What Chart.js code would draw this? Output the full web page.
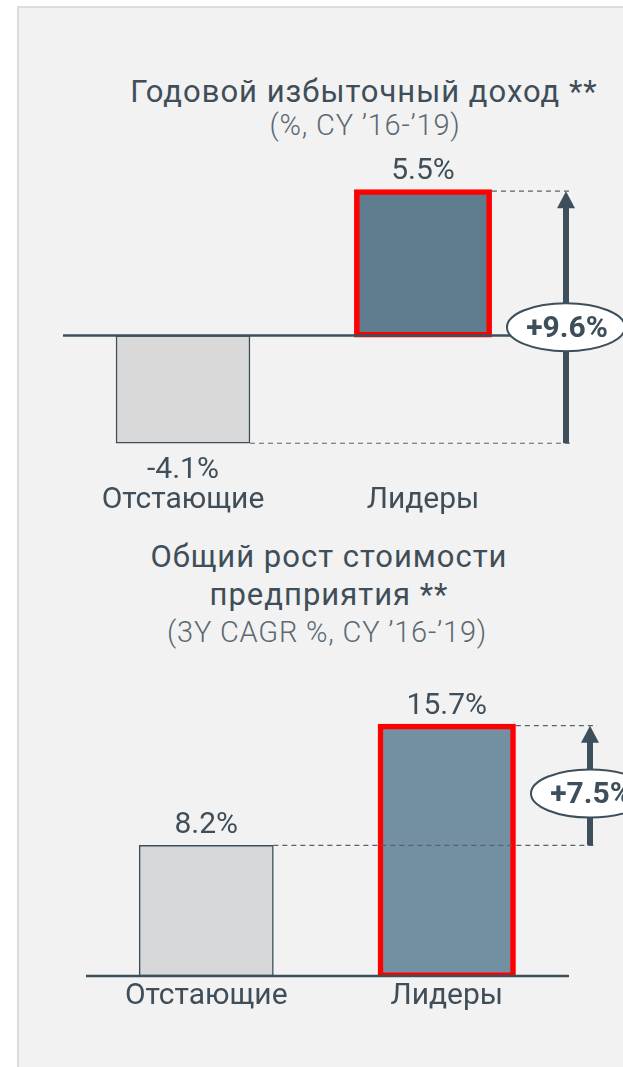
<!DOCTYPE html>
<html>
<head>
<meta charset="utf-8">
<script src="https://cdn.jsdelivr.net/npm/chart.js@4.4.1/dist/chart.umd.min.js"></script>
<style>
  body { margin: 0; width: 623px; height: 1067px; overflow: hidden; position: relative; background: #fff; font-family: Roboto, sans-serif; color: #3f4e58; }
  #panel { position: absolute; left: 17px; top: 6px; width: 620px; height: 1061px; background: #f2f2f2; border-left: 2px solid #dcdcdc; border-top: 2px solid #dcdcdc; }
  .t { position: absolute; white-space: nowrap; transform: translateX(-50%); line-height: 1; }
  .title { font-size: 31px; letter-spacing: 1px; color: #3f4e58; }
  .sub { font-size: 29px; font-weight: 300; letter-spacing: 0.8px; color: #5b6972; }
  canvas { position: absolute; left: 0; }
</style>
</head>
<body>
<div id="panel"></div>

<div class="t title" style="left:364px; top:76px;">Годовой избыточный доход **</div>
<div class="t sub" style="left:365px; top:111px;">(%, CY ’16-’19)</div>
<canvas id="chart-excess" width="623" height="380" style="top:150px;"></canvas>

<div class="t title" style="left:329px; top:541px;">Общий рост стоимости</div>
<div class="t title" style="left:329px; top:579px;">предприятия **</div>
<div class="t sub" style="left:327px; top:618px;">(3Y CAGR %, CY ’16-’19)</div>
<canvas id="chart-growth" width="623" height="366" style="top:660px;"></canvas>

<script>
const categories = ['Отстающие', 'Лидеры'];

const excessReturn = [-4.1, 5.5];
const excessReturnGap = '+9.6%';

const valueGrowth = [8.2, 15.7];
const valueGrowthGap = '+7.5%';

const textColor = '#3f4e58';
const darkLine = '#3d4f5a';

// zero line, value labels, dashed leaders, arrow and the gap bubble
const gapMarker = {
  id: 'gapMarker',
  afterDatasetsDraw(chart, args, opts) {
    const { ctx, chartArea } = chart;
    const yScale = chart.scales.y;
    const bars = chart.getDatasetMeta(0).data;
    const values = chart.data.datasets[0].data;

    ctx.save();

    const y0 = yScale.getPixelForValue(0);
    ctx.strokeStyle = darkLine;
    ctx.lineWidth = 2.5;
    ctx.beginPath();
    ctx.moveTo(chartArea.left, y0);
    ctx.lineTo(chartArea.right + 2, y0);
    ctx.stroke();

    ctx.font = '30px Roboto';
    ctx.fillStyle = textColor;
    ctx.textAlign = 'center';
    ctx.textBaseline = 'alphabetic';
    bars.forEach((bar, i) => {
      const v = values[i];
      const txt = v.toFixed(1) + '%';
      if (v >= 0) ctx.fillText(txt, bar.x, bar.y - 12);
      else ctx.fillText(txt, bar.x, bar.y + 35);
    });

    const arrowX = chartArea.right + 23;
    const dashEnd = chartArea.right + 30;
    ctx.setLineDash([5, 4]);
    ctx.lineWidth = 1.2;
    ctx.strokeStyle = '#55636d';
    bars.forEach((bar, i) => {
      ctx.beginPath();
      ctx.moveTo(bar.x + bar.width / 2 + (i === 1 ? 2 : 0), bar.y);
      ctx.lineTo(dashEnd, bar.y);
      ctx.stroke();
    });
    ctx.setLineDash([]);

    const yLow = Math.max(bars[0].y, bars[1].y);
    const yHigh = Math.min(bars[0].y, bars[1].y);
    ctx.strokeStyle = darkLine;
    ctx.fillStyle = darkLine;
    ctx.lineWidth = 6;
    ctx.beginPath();
    ctx.moveTo(arrowX, yLow);
    ctx.lineTo(arrowX, yHigh + 15);
    ctx.stroke();
    ctx.beginPath();
    ctx.moveTo(arrowX, yHigh);
    ctx.lineTo(arrowX - 9, yHigh + 17);
    ctx.lineTo(arrowX + 9, yHigh + 17);
    ctx.closePath();
    ctx.fill();

    const cy = (yLow + yHigh) / 2 + opts.shiftY;
    ctx.beginPath();
    ctx.ellipse(arrowX, cy, 59, 24, 0, 0, Math.PI * 2);
    ctx.fillStyle = '#ffffff';
    ctx.fill();
    ctx.lineWidth = 2;
    ctx.strokeStyle = darkLine;
    ctx.stroke();

    ctx.fillStyle = darkLine;
    ctx.font = 'bold 30px Roboto';
    ctx.textBaseline = 'middle';
    ctx.fillText(opts.label, arrowX + 1, cy + 2);

    ctx.restore();
  }
};

function makeChart(id, values, fills, gapLabel, yMin, yMax, padding, shiftY) {
  return new Chart(document.getElementById(id), {
    type: 'bar',
    data: {
      labels: categories,
      datasets: [{
        data: values,
        backgroundColor: fills,
        borderColor: [darkLine, '#ff0000'],
        borderWidth: (c) => c.dataIndex === 1 ? 5.5 : 1.5,
        borderSkipped: false,
        inflateAmount: (c) => c.dataIndex === 1 ? 2 : 0.33,
        barPercentage: 0.558,
        categoryPercentage: 1
      }]
    },
    options: {
      responsive: false,
      animation: false,
      layout: { padding: padding },
      plugins: {
        legend: { display: false },
        tooltip: { enabled: false },
        gapMarker: { label: gapLabel, shiftY: shiftY }
      },
      scales: {
        x: {
          grid: { display: false, drawTicks: false },
          border: { display: false },
          ticks: { color: textColor, font: { family: 'Roboto', size: 30 }, padding: 2, maxRotation: 0 },
          afterFit(axis) { axis.height = 50; }
        },
        y: { display: false, min: yMin, max: yMax }
      }
    },
    plugins: [gapMarker]
  });
}

makeChart('chart-excess', excessReturn, ['#d9d9d9', '#5f7d8e'], excessReturnGap,
  -5.5, 6, { top: 28, left: 63, right: 80, bottom: 0 }, 10);

makeChart('chart-growth', valueGrowth, ['#d5d7d9', '#7390a2'], valueGrowthGap,
  0, 17, { top: 45, left: 86, right: 56, bottom: 0 }, 8);
</script>
</body>
</html>
